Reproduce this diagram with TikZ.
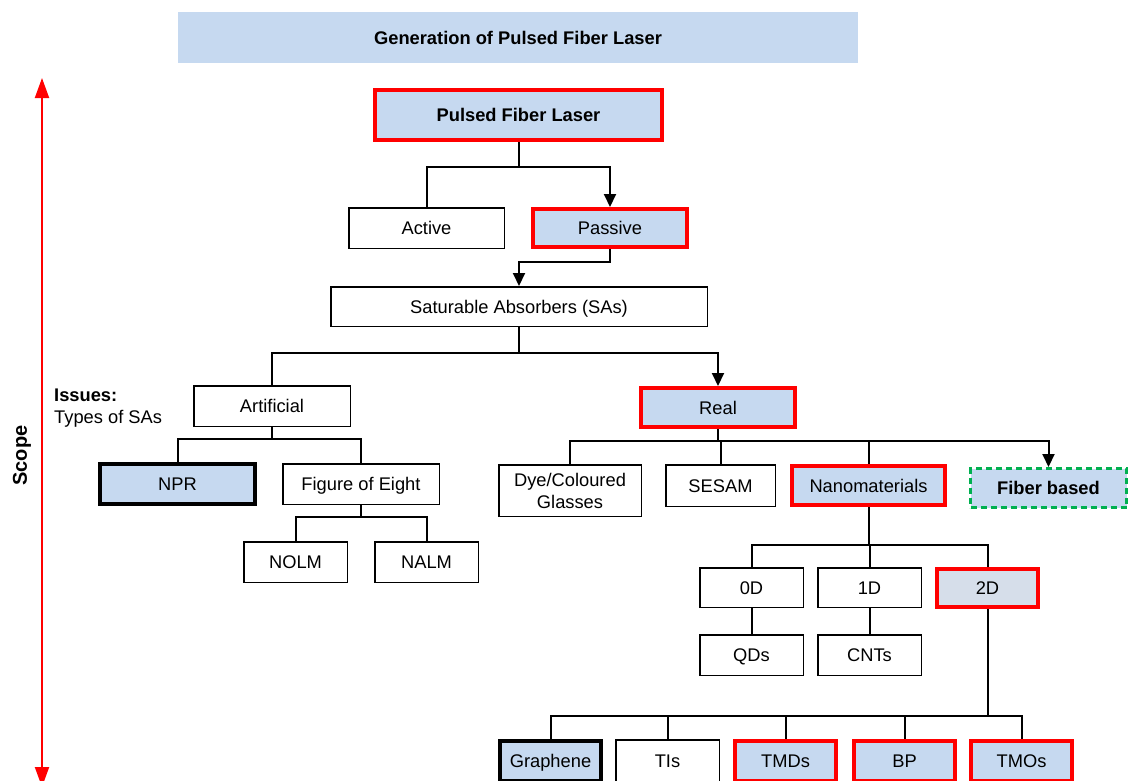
\documentclass[tikz,border=0pt]{standalone}
\usepackage{fontspec}
\setmainfont{Liberation Sans}
\usetikzlibrary{arrows.meta}
\definecolor{boxblue}{RGB}{198,217,240}
\definecolor{greyblue}{RGB}{214,222,234}
\definecolor{okgreen}{RGB}{0,176,80}
\begin{document}
\begin{tikzpicture}[x=1pt,y=-1pt,
  font=\fontsize{18.3}{21}\selectfont,
  sz/.style 2 args={minimum width=#1pt, minimum height=#2pt},
  oneline/.style={text height=13.1pt, text depth=0pt},
  boxbase/.style={draw=black, line width=1.5pt, fill=white, align=center, inner sep=0pt},
  plain/.style={boxbase, oneline},
  hot/.style={draw=red, line width=4pt, fill=boxblue, align=center, inner sep=0pt, oneline},
  firm/.style={draw=black, line width=4pt, fill=boxblue, align=center, inner sep=0pt, oneline},
  fibre/.style={draw=okgreen, line width=3pt, dash pattern=on 6pt off 4pt, fill=boxblue, align=center, inner sep=0pt, oneline},
  conn/.style={draw=black, line width=2pt},
  arr/.style={-{Triangle[length=13pt,width=12pt]}},
  bold/.style={font=\fontsize{18.3}{21}\selectfont\bfseries}
]
\useasboundingbox (0,0) rectangle (1133,780);
\clip (0,0) rectangle (1133,780);

% header banner
\node[fill=boxblue, sz={680}{51}, bold, oneline] (title) at (518,37.5) {Generation of Pulsed Fiber Laser};

% scope axis
\coordinate (scopetop) at (42,78);
\coordinate (scopebot) at (42,787);
\draw[red, line width=2pt, {Triangle[length=20pt,width=14pt]}-{Triangle[length=20pt,width=14pt]}] (scopetop) -- (scopebot);
\node[rotate=90, font=\fontsize{20}{22}\selectfont\bfseries] (scope) at (22,455.5) {Scope};

\node[anchor=north west, align=left, inner sep=0pt, font=\fontsize{18.3}{22}\selectfont] (issues) at (54,389) {\textbf{Issues:}\\Types of SAs};

% boxes
\node[hot, sz={287}{50}, bold] (pfl) at (518.5,115) {Pulsed Fiber Laser};
\node[plain, sz={155.5}{40.5}] (active) at (426.5,228) {Active};
\node[hot, sz={154}{38}] (passive) at (610,228) {Passive};
\node[plain, sz={376.5}{39.5}] (sa) at (519,306.5) {Saturable Absorbers (SAs)};
\node[plain, sz={156.5}{40.5}] (artificial) at (272,406) {Artificial};
\node[hot, sz={154}{39}] (real) at (718,407.5) {Real};
\node[firm, sz={155}{40}] (npr) at (177.5,484) {NPR};
\node[plain, sz={156.5}{40.5}] (foe) at (361,484) {Figure of Eight};
\node[plain, sz={103.5}{40.5}] (nolm) at (295.5,562) {NOLM};
\node[plain, sz={103.5}{40.5}] (nalm) at (426.5,562) {NALM};
\node[boxbase, sz={142.5}{51.5}, font=\fontsize{18.3}{22}\selectfont] (dye) at (570,490.5) {Dye/Coloured\\Glasses};
\node[plain, sz={109.5}{41.5}] (sesam) at (720.5,485.5) {SESAM};
\node[hot, sz={153}{39}] (nano) at (868.5,485.5) {Nanomaterials};
\node[fibre, sz={156}{39}, bold] (fiber) at (1048.5,488) {Fiber based};
\node[plain, sz={103.5}{39.5}] (d0) at (751.5,587.5) {0D};
\node[plain, sz={103.5}{39.5}] (d1) at (869.5,587.5) {1D};
\node[hot, fill=greyblue, sz={101}{38}] (d2) at (987.5,588) {2D};
\node[plain, sz={103.5}{40.5}] (qds) at (751.5,655) {QDs};
\node[plain, sz={103.5}{40.5}] (cnts) at (869.5,655) {CNTs};
\node[firm, sz={101}{40}] (graphene) at (550.5,761) {Graphene};
\node[plain, sz={103.5}{42.5}] (tis) at (667.5,761) {TIs};
\node[hot, sz={101}{40}] (tmds) at (785.5,761) {TMDs};
\node[hot, sz={101}{40}] (bp) at (904.5,761) {BP};
\node[hot, sz={101}{40}] (tmos) at (1021.5,761) {TMOs};

% connectors
\draw[conn] (pfl.south) -- ++(0,25) coordinate (jpfl);
\draw[conn] (jpfl) -| (active.north);
\draw[conn,arr] (jpfl) -| (passive.north);

\draw[conn,arr] (passive.south) -- ++(0,13) -| (sa.north);

\draw[conn] (sa.south) -- ++(0,26) coordinate (jsa);
\draw[conn] (jsa) -| (artificial.north);
\draw[conn,arr] (jsa) -| (real.north);

\draw[conn] (artificial.south) -- ++(0,12) coordinate (jart);
\draw[conn] (jart) -| (npr.north);
\draw[conn] (jart) -| (foe.north);

\draw[conn] (foe.south) -- ++(0,12) coordinate (jfoe);
\draw[conn] (jfoe) -| (nolm.north);
\draw[conn] (jfoe) -| (nalm.north);

\draw[conn] (real.south) -- ++(0,12) coordinate (jreal);
\draw[conn] (jreal) -| (dye.north);
\draw[conn] (jreal) -| (sesam.north);
\draw[conn] (jreal) -| (nano.north);
\draw[conn,arr] (jreal) -| (fiber.north);

\draw[conn] (nano.south) -- ++(0,38) coordinate (jnano);
\draw[conn] (jnano) -| (d0.north);
\draw[conn] (jnano) -| (d1.north);
\draw[conn] (jnano) -| (d2.north);

\draw[conn] (d0.south) -- (qds.north);
\draw[conn] (d1.south) -- (cnts.north);

\draw[conn] (d2.south) -- ++(0,107) coordinate (jtwo);
\draw[conn] (jtwo) -| (graphene.north);
\draw[conn] (jtwo) -| (tis.north);
\draw[conn] (jtwo) -| (tmds.north);
\draw[conn] (jtwo) -| (bp.north);
\draw[conn] (jtwo) -| (tmos.north);
\end{tikzpicture}
\end{document}
